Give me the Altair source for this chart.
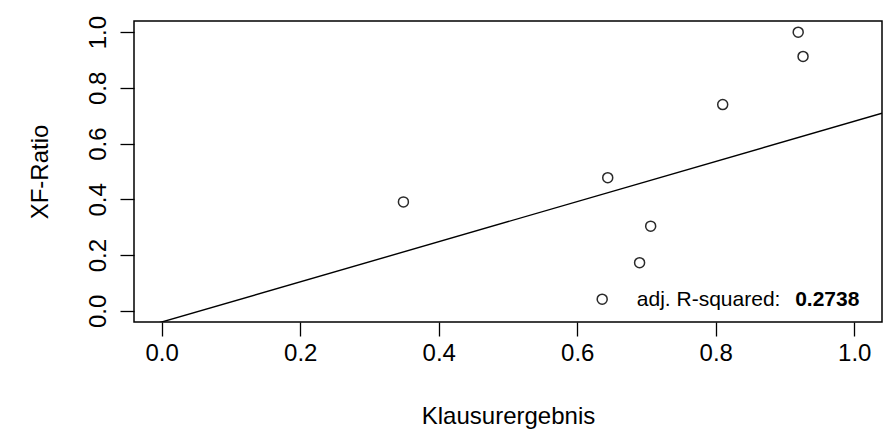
import altair as alt
import pandas as pd

# Data
klausur = [0.919, 0.926, 0.810, 0.644, 0.706, 0.690, 0.636, 0.349]
xf_ratio = [1.000, 0.913, 0.740, 0.478, 0.304, 0.173, 0.042, 0.391]

# fitted line (two end points, clipped to the plot area)
line_x = [-0.04, 1.04]
line_y = [-0.0688, 0.709]

# annotation
ann_label = ["adj. R-squared:  ", "0.2738"]
ann_x = [0.686, 0.9146]
ann_y = [0.017, 0.017]
ann_weight = ["normal", "bold"]

ticks = [0.0, 0.2, 0.4, 0.6, 0.8, 1.0]
FONT = "Liberation Sans"

pts = pd.DataFrame({"x": klausur, "y": xf_ratio})
ln = pd.DataFrame({"x": line_x, "y": line_y})
ann = pd.DataFrame({"x": ann_x, "y": ann_y, "label": ann_label})

xscale = alt.Scale(domain=[-0.04, 1.04], nice=False, zero=False)
yscale = alt.Scale(domain=[-0.04, 1.04], nice=False, zero=False)

xaxis = alt.Axis(
    values=ticks, format=".1f", domain=False, grid=False,
    tickSize=14, tickWidth=1.3, tickColor="black",
    labelFontSize=24, labelFont=FONT, labelColor="black",
    labelPadding=5, labelBaseline="top", labelFlush=False, labelOverlap=False,
    titleFontSize=24, titleFont=FONT, titleFontWeight="normal", titleColor="black",
    titleY=101, titleBaseline="alphabetic",
)
yaxis = alt.Axis(
    values=ticks, format=".1f", domain=False, grid=False,
    tickSize=14, tickWidth=1.3, tickColor="black",
    labelFontSize=24, labelFont=FONT, labelColor="black",
    labelAngle=270, labelAlign="center", labelBaseline="alphabetic",
    labelPadding=15, labelFlush=False, labelOverlap=False,
    titleFontSize=24, titleFont=FONT, titleFontWeight="normal", titleColor="black",
    titleAngle=270, titleX=-87, titleBaseline="alphabetic",
)

X = alt.X("x:Q", scale=xscale, axis=xaxis, title="Klausurergebnis")
Y = alt.Y("y:Q", scale=yscale, axis=yaxis, title="XF-Ratio")

points = alt.Chart(pts).mark_point(
    shape="circle", filled=False, size=100, strokeWidth=1.5, color="#2a2a2a", opacity=1
).encode(x=X, y=Y)

line = alt.Chart(ln).mark_line(color="black", strokeWidth=1.4, clip=True).encode(x=X, y=Y)

text_normal = alt.Chart(ann.iloc[[0]]).mark_text(
    align="left", baseline="alphabetic", fontSize=21, font=FONT, color="black"
).encode(x=X, y=Y, text="label:N")

text_bold = alt.Chart(ann.iloc[[1]]).mark_text(
    align="left", baseline="alphabetic", fontSize=21, font=FONT, color="black",
    fontWeight="bold"
).encode(x=X, y=Y, text="label:N")

chart = alt.layer(line, points, text_normal, text_bold).properties(
    width=748, height=301,
    autosize=alt.AutoSizeParams(type="none"),
    padding={"left": 134, "top": 21, "right": 6, "bottom": 118},
    background="white",
).configure_view(stroke="black", strokeWidth=1.5)

chart.save("out.html", embed_options={"renderer": "svg", "actions": False})
